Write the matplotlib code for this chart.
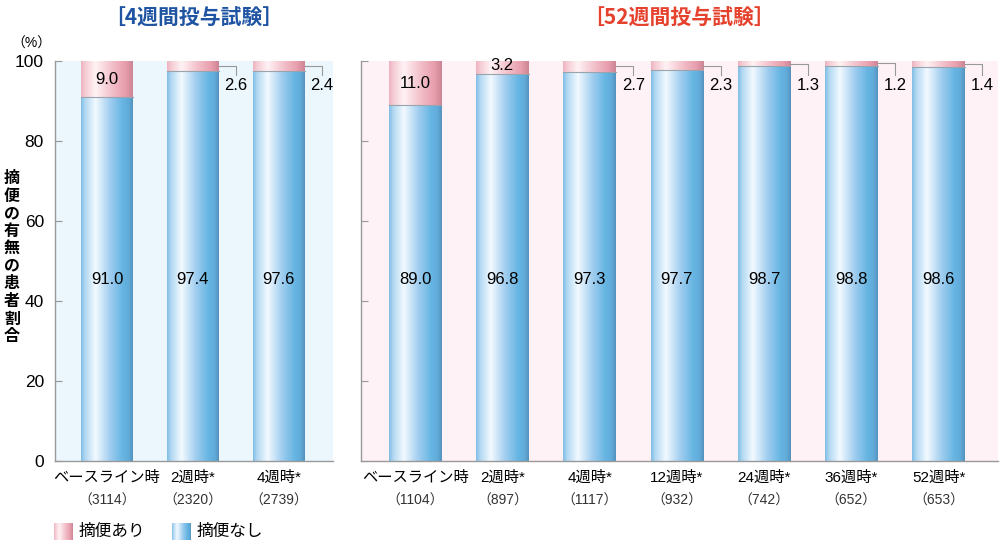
import numpy as np
import matplotlib
matplotlib.use('Agg')
import matplotlib.pyplot as plt
from matplotlib.colors import LinearSegmentedColormap

plt.rcParams['font.family'] = ['Noto Sans CJK JP', 'DejaVu Sans']
NUM_FONT = ['Liberation Sans', 'DejaVu Sans']
MIX_FONT = ['Liberation Sans', 'Noto Sans CJK JP']

# データ
cats_4w = ['ベースライン時', '2週時*', '4週時*']
n_4w = ['3114', '2320', '2739']
yes_4w = [9.0, 2.6, 2.4]
no_4w = [91.0, 97.4, 97.6]

cats_52w = ['ベースライン時', '2週時*', '4週時*', '12週時*', '24週時*', '36週時*', '52週時*']
n_52w = ['1104', '897', '1117', '932', '742', '652', '653']
yes_52w = [11.0, 3.2, 2.7, 2.3, 1.3, 1.2, 1.4]
no_52w = [89.0, 96.8, 97.3, 97.7, 98.7, 98.8, 98.6]

# グラデーション
blue_cm = LinearSegmentedColormap.from_list('b', [
    (0.0, (0.50, 0.74, 0.90)),
    (0.08, (0.70, 0.85, 0.95)),
    (0.28, (0.95, 0.98, 1.00)),
    (0.55, (0.64, 0.81, 0.94)),
    (0.80, (0.40, 0.71, 0.89)),
    (0.92, (0.38, 0.67, 0.85)),
    (1.0, (0.33, 0.57, 0.74)),
])
pink_cm = LinearSegmentedColormap.from_list('p', [
    (0.0, (0.93, 0.70, 0.75)),
    (0.08, (0.96, 0.80, 0.83)),
    (0.28, (1.00, 0.95, 0.96)),
    (0.60, (0.95, 0.75, 0.79)),
    (0.85, (0.91, 0.62, 0.68)),
    (1.0, (0.80, 0.52, 0.58)),
])
grad = np.linspace(0, 1, 256).reshape(1, -1)


def grad_bar(ax, x, bottom, height, width, cmap):
    bar = ax.bar(x, height, width, bottom=bottom, color='none', edgecolor='none')[0]
    im = ax.imshow(grad, cmap=cmap, aspect='auto', interpolation='bicubic',
                   extent=(x - width / 2, x + width / 2, bottom, bottom + height), zorder=2)
    im.set_clip_path(bar)
    return bar


def draw_panel(ax, cats, ns, yes, no, bg, xlim):
    w = 0.6
    ax.set_facecolor(bg)
    for i in range(len(cats)):
        grad_bar(ax, i, 0, no[i], w, blue_cm)
        grad_bar(ax, i, no[i], yes[i], w, pink_cm)
        ax.plot([i - w / 2, i + w / 2], [no[i], no[i]], color='#9aa4ad', lw=0.8, zorder=3)
        ax.text(i, 45.5, f'{no[i]:.1f}', ha='center', va='center', fontsize=12,
                family=NUM_FONT, zorder=4)
        if yes[i] >= 3:
            ym = no[i] + yes[i] / 2
            if yes[i] < 5:
                ym += 0.4
            ax.text(i, ym, f'{yes[i]:.1f}', ha='center', va='center', fontsize=12,
                    family=NUM_FONT, zorder=4)
        else:
            ym = no[i] + yes[i] / 2
            xr = i + w / 2
            xl = xr + 0.2
            ax.plot([xr, xl, xl], [ym, ym, 96.5], color='#999999', lw=0.8, zorder=3,
                    clip_on=False)
            ax.text(xl, 94.0, f'{yes[i]:.1f}', ha='center', va='center', fontsize=12,
                    family=NUM_FONT, zorder=4)
        ax.text(i, -4.3, cats[i], ha='center', va='center', fontsize=11, family=MIX_FONT)
        ax.text(i, -10.0, f'（{ns[i]}）', ha='center', va='center', fontsize=10,
                color='#333333', family=MIX_FONT)
    ax.set_xlim(*xlim)
    ax.set_ylim(0, 100)
    ax.set_xticks([])
    ax.set_yticks([0, 20, 40, 60, 80, 100])
    ax.tick_params(axis='y', direction='in', length=5, color='#999999', labelsize=12.5,
                   pad=8)
    for s in ['top', 'right']:
        ax.spines[s].set_visible(False)
    for s in ['left', 'bottom']:
        ax.spines[s].set_color('#999999')
        ax.spines[s].set_linewidth(1.0)


fig = plt.figure(figsize=(10.01, 5.46), dpi=100)
ax1 = fig.add_axes([55 / 1001, 1 - 461 / 546, 278 / 1001, 400 / 546])
ax2 = fig.add_axes([361 / 1001, 1 - 461 / 546, 637 / 1001, 400 / 546])

draw_panel(ax1, cats_4w, n_4w, yes_4w, no_4w, '#ebf6fd', (-0.605, 2.63))
draw_panel(ax2, cats_52w, n_52w, yes_52w, no_52w, '#fef2f6', (-0.62, 6.68))
ax2.set_yticklabels([])
for lab in ax1.get_yticklabels():
    lab.set_family(NUM_FONT)

# タイトル
fig.text(194 / 1001, 1 - 18 / 546, '［4週間投与試験］', ha='center', va='center',
         fontsize=15, fontweight='bold', color='#1f54a3')
fig.text(679 / 1001, 1 - 18 / 546, '［52週間投与試験］', ha='center', va='center',
         fontsize=15, fontweight='bold', color='#e5412c')

# 縦軸ラベル
fig.text(12 / 1001, 1 - 257 / 546, '\n'.join('摘便の有無の患者割合'), ha='center',
         va='center', fontsize=11.5, fontweight='bold', linespacing=1.12)
fig.text(31 / 1001, 1 - 44 / 546, '（%）', ha='center', va='center', fontsize=10,
         family=MIX_FONT)

# 凡例
for x0, cm, label in [(54, pink_cm, '摘便あり'), (172, blue_cm, '摘便なし')]:
    lax = fig.add_axes([x0 / 1001, 1 - 540 / 546, 19 / 1001, 17 / 546])
    lax.imshow(grad, cmap=cm, aspect='auto', interpolation='bicubic')
    lax.axis('off')
    fig.text((x0 + 25) / 1001, 1 - 531 / 546, label, ha='left', va='center', fontsize=12)

fig.savefig('out.png', dpi=100)
